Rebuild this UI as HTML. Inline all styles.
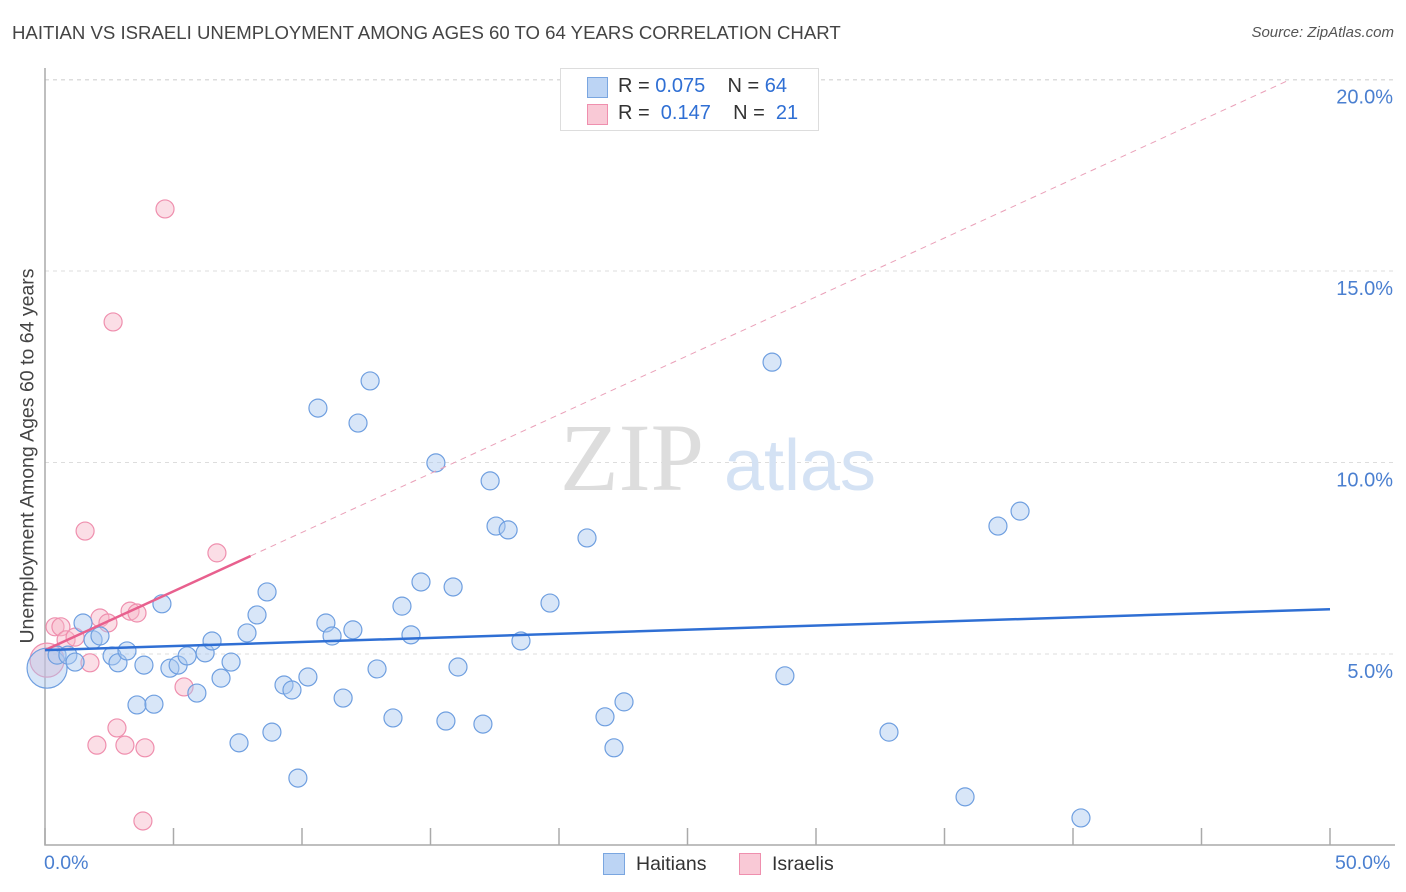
<!DOCTYPE html>
<html><head><meta charset="utf-8">
<style>
body{margin:0;background:#fff;font-family:"Liberation Sans",sans-serif;}
#wrap{position:relative;width:1406px;height:892px;overflow:hidden;}
.t{position:absolute;white-space:nowrap;}
</style></head>
<body><div id="wrap">
<div class="t" style="left:12px;top:22px;font-size:18.6px;color:#444;">HAITIAN VS ISRAELI UNEMPLOYMENT AMONG AGES 60 TO 64 YEARS CORRELATION CHART</div>
<div class="t" style="right:12px;top:24px;font-size:15px;color:#555;font-style:italic;">Source: ZipAtlas.com</div>
<svg id="svg" width="1406" height="892" style="position:absolute;left:0;top:0"></svg>
</div>
<script>
const xTicks=[0,5,10,15,20,25,30,35,40,45,50];
const yTicks=[5,10,15,20];
const yTickLabels=["5.0%","10.0%","15.0%","20.0%"];
const haitianX=[0.08,0.47,0.89,1.17,1.48,1.87,2.14,2.61,2.84,3.19,3.58,3.85,4.24,4.55,4.86,5.18,5.53,5.91,6.23,6.50,6.85,7.24,7.55,7.86,8.25,8.64,8.83,9.30,9.61,9.84,10.23,10.62,10.93,11.17,11.60,11.98,12.18,12.65,12.92,13.54,13.89,14.24,14.63,15.21,15.60,15.88,16.07,17.04,17.32,17.55,18.02,18.52,19.65,21.09,21.79,22.14,22.53,28.29,28.79,32.84,35.80,37.08,37.94,40.31];
const haitianY=[4.63,4.97,4.97,4.79,5.81,5.37,5.47,4.95,4.77,5.08,3.67,4.71,3.69,6.31,4.63,4.71,4.95,3.98,5.03,5.34,4.37,4.79,2.68,5.55,6.02,6.62,2.96,4.19,4.06,1.76,4.40,11.42,5.81,5.47,3.85,5.63,11.03,12.13,4.61,3.33,6.25,5.50,6.88,9.99,3.25,6.75,4.66,3.17,9.52,8.34,8.24,5.34,6.33,8.03,3.36,2.55,3.75,12.62,4.43,2.96,1.27,8.34,8.73,0.72];
const israeliX=[0.08,0.39,0.62,0.82,1.17,1.56,1.75,2.02,2.14,2.45,2.65,2.80,3.11,3.31,3.58,3.89,3.81,4.67,5.41,6.69];
const israeliY=[4.84,5.71,5.71,5.37,5.44,8.21,4.77,2.62,5.94,5.81,13.67,3.07,2.62,6.12,6.07,2.55,0.64,16.62,4.14,7.64];
const haitianTrend=[5.1,6.17];
const israeliTrend=[5.1,7.56];
const israeliTrendEndX=8;

const X=v=>45+v*25.7, Y=v=>845.5-v*38.3;
const svg=document.getElementById('svg');const NS='http://www.w3.org/2000/svg';
function mk(tag,attrs){const e=document.createElementNS(NS,tag);for(const k in attrs)e.setAttribute(k,attrs[k]);svg.appendChild(e);return e;}
yTicks.forEach((t,i)=>{
 const g=mk('line',{x1:45,x2:1395,y1:Y(t),y2:Y(t),stroke:'#ddd','stroke-dasharray':'4,4'});
 
 
 const l=mk('text',{x:1393,y:Y(t)+24,'text-anchor':'end','font-size':20,fill:'#4a7fd0','font-family':'Liberation Sans'});
 l.textContent=yTickLabels[i];
 
 
});
const tl=mk('line',{x1:45,x2:1395,y1:80,y2:80,stroke:'#ddd','stroke-dasharray':'4,4'});


const ax=mk('path',{d:'M45,68V845H1395',fill:'none',stroke:'#aaa','stroke-width':1.5});


xTicks.forEach(t=>{const k=mk('line',{x1:X(t),x2:X(t),y1:828,y2:845,stroke:'#aaa','stroke-width':1.5});
 
 });
const w1=mk('text',{x:632,y:490,'text-anchor':'middle','font-size':96,fill:'#ddd','font-family':'Liberation Serif'});w1.textContent='ZIP';


const w2=mk('text',{x:800,y:490,'text-anchor':'middle','font-size':72,fill:'#d4e2f4','font-family':'Liberation Sans'});w2.textContent='atlas';


function pts(xs,ys,fill,stroke,name,bigR){xs.forEach((x,i)=>{const c=mk('circle',{cx:X(x),cy:Y(ys[i]),r:i==0?bigR:9,fill:fill,'fill-opacity':0.45,stroke:stroke,'stroke-width':1.2});
 
 });}
pts(israeliX,israeliY,'#f7b6c8','#ef8fae','israeli-point',17);
pts(haitianX,haitianY,'#a9c8f0','#6f9fe0','haitian-point',20);
const slope=(israeliTrend[1]-israeliTrend[0])/israeliTrendEndX;
const dx=(20-israeliTrend[0])/slope;
const pd=mk('line',{x1:X(israeliTrendEndX),y1:Y(israeliTrend[1]),x2:X(dx),y2:Y(20),stroke:'#eaa0b8','stroke-width':1,'stroke-dasharray':'6,5'});


const pl=mk('line',{x1:X(0),y1:Y(israeliTrend[0]),x2:X(israeliTrendEndX),y2:Y(israeliTrend[1]),stroke:'#e8608e','stroke-width':2.5});


const bl=mk('line',{x1:X(0),y1:Y(haitianTrend[0]),x2:X(50),y2:Y(haitianTrend[1]),stroke:'#2f6fd4','stroke-width':2.5});


</script>
<div class="t" style="left:28px;top:456px;font-size:19.5px;color:#444;transform:translate(-50%,-50%) rotate(-90deg);">Unemployment Among Ages 60 to 64 years</div>
<div class="t" style="left:44px;top:852px;font-size:19.5px;color:#4a7fd0;">0.0%</div>
<div class="t" style="left:1335px;top:852px;font-size:19.5px;color:#4a7fd0;">50.0%</div>
<div style="position:absolute;left:560px;top:68px;width:257px;height:61px;border:1px solid #ddd;background:#fff;font-size:20px;color:#333;">
 <div style="position:absolute;left:26px;top:8px;width:19px;height:19px;background:#bcd4f4;border:1px solid #7aa6e0;"></div>
 <div class="t" style="left:57px;top:6px;">R = <span style="color:#2f6fd4">0.075</span>&nbsp;&nbsp;&nbsp; N = <span style="color:#2f6fd4">64</span></div>
 <div style="position:absolute;left:26px;top:35px;width:19px;height:19px;background:#f9c9d6;border:1px solid #ef8fae;"></div>
 <div class="t" style="left:57px;top:33px;">R = &nbsp;<span style="color:#2f6fd4">0.147</span>&nbsp;&nbsp;&nbsp; N = &nbsp;<span style="color:#2f6fd4">21</span></div>
</div>
<div style="position:absolute;left:603px;top:853px;font-size:19.5px;color:#333;">
 <span style="position:absolute;left:0;top:0;width:20px;height:20px;background:#bcd4f4;border:1px solid #7aa6e0;"></span>
 <span class="t" style="left:33px;top:0;">Haitians</span>
 <span style="position:absolute;left:136px;top:0;width:20px;height:20px;background:#f9c9d6;border:1px solid #ef8fae;"></span>
 <span class="t" style="left:169px;top:0;">Israelis</span>
</div>
</body></html>
